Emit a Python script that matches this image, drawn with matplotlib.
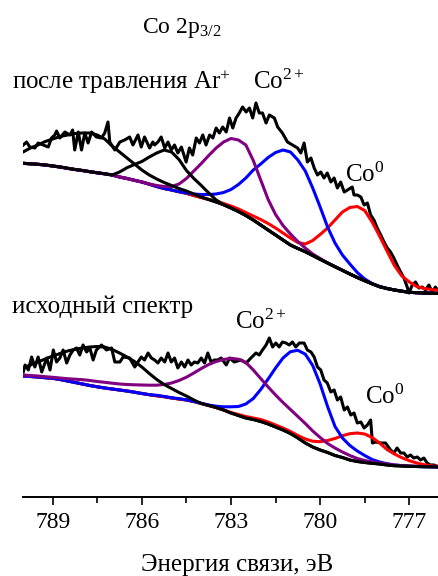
import matplotlib
matplotlib.use("Agg")
import matplotlib.pyplot as plt
from matplotlib.ticker import MultipleLocator

plt.rcParams["font.family"] = ["Liberation Serif", "DejaVu Serif"]
plt.rcParams["mathtext.fontset"] = "custom"
plt.rcParams["mathtext.rm"] = "Liberation Serif"
plt.rcParams["mathtext.it"] = "Liberation Serif"

# binding energy grid of the fitted components, eV (0.25 eV step)
energy = [790.00, 789.75, 789.50, 789.25, 789.00, 788.75, 788.50, 788.25, 788.00, 787.75,
          787.50, 787.25, 787.00, 786.75, 786.50, 786.25, 786.00, 785.75, 785.50, 785.25,
          785.00, 784.75, 784.50, 784.25, 784.00, 783.75, 783.50, 783.25, 783.00, 782.75,
          782.50, 782.25, 782.00, 781.75, 781.50, 781.25, 781.00, 780.75, 780.50, 780.25,
          780.00, 779.75, 779.50, 779.25, 779.00, 778.75, 778.50, 778.25, 778.00, 777.75,
          777.50, 777.25, 777.00, 776.75, 776.50, 776.25, 776.00]

# after Ar+ etching (upper spectrum), intensity a.u. incl. offset
top_bg = [333.7, 333.2, 332.7, 332.0, 331.0, 330.0, 328.7, 327.5, 326.5, 325.3,
          324.2, 323.2, 322.0, 320.0, 318.5, 316.7, 315.0, 312.8, 310.5, 308.5,
          307.0, 305.3, 303.7, 301.5, 299.5, 297.5, 295.0, 292.3, 289.0, 285.5,
          281.5, 277.0, 272.0, 267.0, 262.0, 257.0, 252.0, 248.5, 245.3, 241.5,
          237.7, 234.0, 230.3, 226.7, 223.0, 219.5, 216.3, 213.2, 210.3, 208.5,
          207.0, 205.8, 204.7, 204.3, 204.0, 203.7, 203.5]
top_sat1 = [345.0, 349.0, 352.0, 355.5, 358.0, 360.5, 362.0, 363.5, 364.0, 364.0,
            362.0, 358.0, 351.0, 345.0, 339.0, 333.0, 327.0, 322.0, 318.0, 314.5,
            311.5, 308.5, 306.0, 303.0, 300.0, 297.5, 295.0, 292.3, 289.0, 285.5,
            281.5, 277.0, 272.0, 267.0, 262.0, 257.0, 252.0, 248.5, 245.3, 241.5,
            237.7, 234.0, 230.3, 226.7, 223.0, 219.5, 216.3, 213.2, 210.3, 208.5,
            207.0, 205.8, 204.7, 204.3, 204.0, 203.7, 203.5]
top_sat2 = [333.7, 333.2, 332.7, 332.0, 331.0, 330.0, 328.7, 327.5, 326.5, 325.3,
            324.2, 323.2, 322.0, 325.0, 329.3, 332.5, 335.5, 340.0, 344.0, 347.0,
            345.0, 337.5, 326.5, 318.5, 311.5, 304.0, 297.0, 292.3, 289.0, 285.5,
            281.5, 277.0, 272.0, 267.0, 262.0, 257.0, 252.0, 248.5, 245.3, 241.5,
            237.7, 234.0, 230.3, 226.7, 223.0, 219.5, 216.3, 213.2, 210.3, 208.5,
            207.0, 205.8, 204.7, 204.3, 204.0, 203.7, 203.5]
top_co2_a = [333.7, 333.2, 332.7, 332.0, 331.0, 330.0, 328.7, 327.5, 326.5, 325.3,
             324.2, 323.2, 322.0, 320.0, 318.5, 316.7, 315.0, 313.0, 311.5, 310.5,
             310.5, 313.0, 318.5, 326.0, 333.5, 341.5, 349.0, 355.0, 358.5, 357.0,
             352.0, 336.5, 317.0, 297.5, 282.5, 271.5, 263.0, 255.5, 249.0, 243.0,
             238.5, 234.0, 230.3, 226.7, 223.0, 219.5, 216.3, 213.2, 210.3, 208.5,
             207.0, 205.8, 204.7, 204.3, 204.0, 203.7, 203.5]
top_co2_b = [333.7, 333.2, 332.7, 332.0, 331.0, 330.0, 328.7, 327.5, 326.5, 325.3,
             324.2, 323.2, 322.0, 320.0, 318.5, 316.7, 315.0, 312.8, 310.5, 308.5,
             307.0, 305.3, 304.0, 303.0, 302.5, 302.5, 303.0, 304.5, 307.5, 312.5,
             319.0, 327.0, 333.0, 339.5, 344.5, 347.0, 345.0, 337.0, 326.0, 309.0,
             290.0, 270.0, 254.0, 242.0, 233.0, 224.5, 218.0, 213.5, 210.5, 208.5,
             207.0, 205.8, 204.7, 204.3, 204.0, 203.7, 203.5]
top_co0 = [333.7, 333.2, 332.7, 332.0, 331.0, 330.0, 328.7, 327.5, 326.5, 325.3,
           324.2, 323.2, 322.0, 320.0, 318.5, 316.7, 315.0, 312.8, 310.5, 308.5,
           307.0, 305.3, 303.7, 301.5, 299.5, 297.5, 296.0, 293.5, 291.0, 288.0,
           284.5, 281.0, 277.5, 273.5, 269.0, 264.0, 259.0, 254.5, 253.0, 256.5,
           262.5, 269.0, 277.0, 285.0, 289.5, 290.5, 286.5, 275.0, 261.0, 246.0,
           231.5, 221.0, 215.0, 210.5, 208.5, 207.5, 206.5]

top_raw_e = [789.99, 789.88, 789.77, 789.60, 789.49, 789.32, 789.15, 789.04, 788.93, 788.87,
             788.76, 788.59, 788.42, 788.33, 788.26, 788.14, 788.03, 787.92, 787.81, 787.69,
             787.53, 787.36, 787.25, 787.14, 787.08, 786.91, 786.74, 786.58, 786.41, 786.30,
             786.13, 786.02, 785.91, 785.74, 785.63, 785.57, 785.46, 785.35, 785.23, 785.12,
             785.01, 784.90, 784.79, 784.67, 784.51, 784.40, 784.29, 784.17, 784.06, 783.95,
             783.84, 783.72, 783.61, 783.50, 783.39, 783.28, 783.16, 783.05, 782.94, 782.83,
             782.72, 782.61, 782.49, 782.38, 782.27, 782.16, 782.05, 781.94, 781.82, 781.71,
             781.54, 781.43, 781.27, 781.10, 780.93, 780.76, 780.65, 780.54, 780.43, 780.31,
             780.20, 780.09, 779.98, 779.87, 779.76, 779.64, 779.53, 779.42, 779.31, 779.19,
             779.08, 778.92, 778.86, 778.75, 778.63, 778.52, 778.41, 778.30, 778.19, 778.08,
             777.96, 777.85, 777.74, 777.63, 777.52, 777.41, 777.29, 777.18, 777.07, 777.01,
             776.90, 776.79, 776.68, 776.57, 776.45, 776.34, 776.23, 776.12, 776.01]
top_raw_i = [352, 355, 350, 349, 354, 352, 350, 359, 362, 366,
             359, 365, 362, 367, 347, 365, 347, 364, 354, 365,
             360, 359, 364, 375, 355, 347, 355, 357, 360, 352,
             362, 350, 360, 349, 355, 352, 355, 360, 349, 355,
             347, 352, 344, 350, 335, 349, 342, 359, 354, 362,
             352, 362, 359, 369, 364, 370, 365, 379, 369, 379,
             384, 390, 385, 389, 379, 394, 384, 384, 374, 382,
             379, 370, 364, 355, 352, 349, 344, 354, 335, 339,
             329, 322, 325, 319, 324, 315, 319, 309, 315, 305,
             307, 310, 302, 302, 300, 292, 294, 282, 277, 269,
             262, 255, 249, 245, 239, 232, 225, 219, 210, 204,
             212, 215, 209, 210, 207, 212, 205, 210, 205]

# initial spectrum (lower)
bot_bg = [121.0, 120.5, 120.0, 119.3, 118.7, 117.5, 116.0, 114.5, 113.0, 111.5,
          110.2, 109.0, 108.0, 107.0, 106.0, 104.8, 103.5, 102.3, 101.2, 100.3,
          99.0, 98.0, 97.0, 95.5, 93.5, 91.5, 89.5, 87.0, 84.0, 81.5,
          79.0, 77.5, 75.5, 73.0, 70.0, 67.0, 63.5, 59.0, 54.0, 50.0,
          47.0, 44.5, 41.5, 39.5, 37.0, 35.5, 34.5, 33.7, 33.0, 32.0,
          31.3, 31.0, 30.7, 30.5, 30.3, 30.2, 30.0]
bot_sat = [129.0, 132.0, 135.0, 138.0, 141.0, 143.5, 146.0, 147.7, 149.0, 150.0,
           150.5, 150.0, 147.5, 144.0, 140.0, 135.5, 130.0, 123.5, 117.5, 112.5,
           108.5, 104.5, 101.0, 97.0, 93.5, 91.5, 89.5, 87.0, 84.0, 81.5,
           79.0, 77.5, 75.5, 73.0, 70.0, 67.0, 63.5, 59.0, 54.0, 50.0,
           47.0, 44.5, 41.5, 39.5, 37.0, 35.5, 34.5, 33.7, 33.0, 32.0,
           31.3, 31.0, 30.7, 30.5, 30.3, 30.2, 30.0]
bot_co2_a = [122.0, 121.5, 121.0, 120.3, 119.7, 119.0, 118.3, 117.8, 117.3, 116.5,
             115.5, 114.7, 113.8, 113.0, 112.5, 112.2, 112.0, 111.8, 111.8, 112.5,
             114.0, 116.5, 119.8, 124.0, 128.5, 132.5, 135.5, 137.5, 138.7, 137.8,
             134.5, 127.0, 118.5, 110.0, 102.0, 94.5, 87.5, 80.5, 73.5, 66.0,
             59.5, 53.5, 49.0, 45.0, 41.5, 38.5, 36.5, 35.0, 34.0, 33.0,
             32.0, 31.5, 31.0, 30.7, 30.5, 30.3, 30.2]
bot_co2_b = [121.0, 120.5, 120.0, 119.3, 118.7, 117.5, 116.0, 114.5, 113.0, 111.5,
             110.2, 109.0, 108.0, 107.0, 106.0, 104.8, 103.5, 102.3, 101.7, 100.5,
             99.3, 98.3, 97.2, 95.5, 93.7, 92.0, 90.8, 90.2, 90.2, 90.5,
             93.0, 98.5, 107.5, 118.0, 129.0, 139.0, 145.3, 146.7, 142.8, 131.5,
             113.0, 90.5, 70.5, 59.0, 51.5, 46.0, 41.5, 37.5, 35.0, 33.3,
             32.0, 31.3, 30.8, 30.5, 30.3, 30.2, 30.0]
bot_co0 = [121.0, 120.5, 120.0, 119.3, 118.7, 117.5, 116.0, 114.5, 113.0, 111.5,
           110.2, 109.0, 108.0, 107.0, 106.0, 104.8, 103.5, 102.3, 101.2, 100.3,
           99.0, 98.0, 97.0, 95.5, 93.5, 91.5, 89.5, 87.0, 84.5, 82.5,
           80.5, 79.0, 77.5, 75.0, 72.0, 69.0, 65.5, 61.5, 58.0, 55.8,
           55.3, 56.5, 58.5, 61.3, 63.3, 64.0, 63.0, 59.5, 54.0, 47.5,
           43.0, 39.3, 36.3, 34.0, 32.3, 31.2, 30.5]

bot_raw_e = [789.99, 789.93, 789.82, 789.71, 789.60, 789.49, 789.37, 789.20, 789.09, 788.98,
             788.87, 788.76, 788.65, 788.53, 788.42, 788.31, 788.20, 788.09, 787.98, 787.86,
             787.75, 787.64, 787.53, 787.36, 787.19, 787.02, 786.91, 786.74, 786.63, 786.41,
             786.24, 786.13, 786.02, 785.91, 785.79, 785.68, 785.57, 785.46, 785.35, 785.23,
             785.12, 785.01, 784.90, 784.79, 784.67, 784.56, 784.45, 784.34, 784.23, 784.12,
             784.00, 783.89, 783.78, 783.67, 783.56, 783.45, 783.33, 783.16, 783.05, 782.89,
             782.66, 782.49, 782.33, 782.16, 782.05, 781.94, 781.82, 781.71, 781.60, 781.49,
             781.38, 781.27, 781.15, 781.04, 780.93, 780.82, 780.70, 780.54, 780.43, 780.31,
             780.20, 780.09, 779.98, 779.87, 779.76, 779.64, 779.53, 779.42, 779.31, 779.19,
             779.08, 778.97, 778.86, 778.75, 778.63, 778.52, 778.41, 778.30, 778.24, 778.13,
             777.96, 777.80, 777.63, 777.52, 777.41, 777.29, 777.18, 777.07, 776.96, 776.85,
             776.73, 776.62, 776.51, 776.40, 776.29, 776.17, 776.00]
bot_raw_i = [125, 132, 127, 140, 130, 140, 125, 139, 127, 147,
             135, 139, 147, 134, 142, 147, 149, 142, 152, 145,
             149, 137, 147, 152, 147, 149, 135, 135, 140, 139,
             130, 135, 140, 137, 144, 139, 137, 134, 139, 135,
             144, 135, 139, 129, 135, 130, 137, 132, 135, 134,
             139, 134, 144, 135, 137, 137, 139, 132, 139, 135,
             137, 134, 139, 144, 142, 147, 152, 159, 150, 154,
             150, 155, 154, 152, 155, 150, 154, 154, 147, 145,
             140, 130, 127, 117, 114, 105, 107, 97, 100, 87,
             90, 82, 84, 74, 75, 69, 72, 77, 54, 55,
             54, 54, 47, 44, 49, 44, 44, 40, 42, 39,
             40, 37, 39, 34, 32, 32, 30]

W, H = 439, 576
fig = plt.figure(figsize=(W / 100, H / 100), dpi=100)
ax = fig.add_axes([23 / W, 79 / H, 1 - 23 / W, (497 - 60) / H])

lw = 2.2
spectra = [
    (top_bg, [top_sat1, top_sat2], top_co2_a, top_co2_b, top_co0, top_raw_e, top_raw_i),
    (bot_bg, [bot_sat], bot_co2_a, bot_co2_b, bot_co0, bot_raw_e, bot_raw_i),
]
for bg, sats, co2a, co2b, co0, raw_e, raw_i in spectra:
    ax.plot(raw_e, raw_i, color="black", lw=lw, zorder=2)
    ax.plot(energy, bg, color="black", lw=lw, zorder=3)
    ax.plot(energy, co0, color="red", lw=lw, zorder=4)
    ax.plot(energy, co2b, color="blue", lw=lw, zorder=5)
    ax.plot(energy, co2a, color="purple", lw=lw, zorder=6)
    for s in sats:
        ax.plot(energy, s, color="black", lw=lw, zorder=7)

ax.set_xlim(790, 776)
ax.set_ylim(0, 437)
for side in ["left", "right", "top"]:
    ax.spines[side].set_visible(False)
ax.spines["bottom"].set_linewidth(1.4)
ax.set_yticks([])
ax.xaxis.set_major_locator(MultipleLocator(3))
ax.xaxis.set_minor_locator(MultipleLocator(1.5))
ax.tick_params(axis="x", which="major", direction="out", length=6, width=1.2,
               labelsize=17, pad=5)
ax.tick_params(axis="x", which="minor", direction="out", length=4, width=1.2)

fs = 18


def label(px, py, s, size=fs):
    fig.text(px / W, 1 - py / H, s, fontsize=size, ha="left", va="baseline")


label(142, 33, r"Co 2p$_\mathregular{3/2}$", size=17)
label(12, 89, r"после травления Ar$^\mathregular{+}$")
label(253, 89, r"Co$^\mathregular{2+}$")
label(345, 182, r"Co$^\mathregular{0}$")
label(12, 313, "исходный спектр")
label(235, 329, r"Co$^\mathregular{2+}$")
label(365, 404, r"Co$^\mathregular{0}$")
fig.text(237 / W, 1 - 571 / H, "Энергия связи, эВ", fontsize=fs,
         ha="center", va="baseline")

fig.savefig("out.png", dpi=100)
